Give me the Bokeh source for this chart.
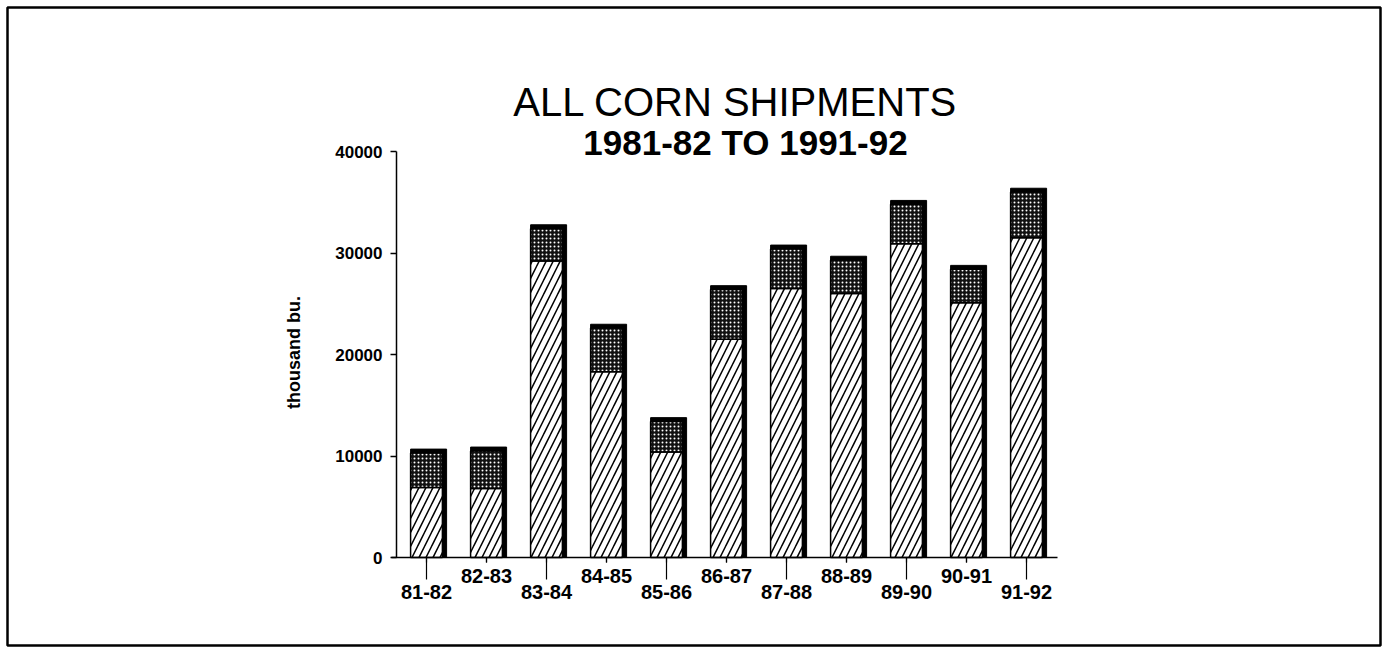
import math
from bokeh.plotting import figure
from bokeh.models import (ColumnDataSource, Range1d, FixedTicker,
                          Label, BoxAnnotation)
from bokeh.transform import dodge
from bokeh.core.properties import value
from bokeh.embed import file_html
from bokeh.resources import INLINE

# ---- data (thousand bushels) ----
years = ["81-82", "82-83", "83-84", "84-85", "85-86", "86-87",
         "87-88", "88-89", "89-90", "90-91", "91-92"]
lower_part = [6900, 6800, 29200, 18300, 10400, 21500, 26500, 26000, 30900, 25100, 31500]
upper_part = [3400, 3700, 3200, 4300, 3000, 4900, 3900, 3300, 3900, 3300, 4500]
y_ticks = [0, 10000, 20000, 30000, 40000]

W, H = 1383, 647
FONT = value("Liberation Sans")

pos = list(range(len(years)))
totals = [a + b for a, b in zip(lower_part, upper_part)]
tick_len = [22 if i % 2 == 0 else 5 for i in pos]
label_off = [27 if i % 2 == 0 else 11 for i in pos]

src = ColumnDataSource(dict(x=pos, year=years, lower=lower_part, total=totals,
                            tick_len=tick_len, label_off=label_off))

# frame covers the whole canvas; 60 px per category, 0.01015 px per unit
X0, Y1 = -7.1, 54877
p = figure(x_range=Range1d(X0, X0 + W / 60), y_range=Range1d(Y1 - H / 0.01015, Y1),
           width=W, height=H, output_backend="svg", toolbar_location=None,
           min_border_left=0, min_border_right=0, min_border_top=0, min_border_bottom=0)

p.xgrid.visible = False
p.ygrid.visible = False
p.outline_line_color = None

xa = p.xaxis[0]
xa.fixed_location = 0
xa.bounds = (-0.583, 10.517)
xa.ticker = FixedTicker(ticks=pos)
xa.major_tick_out = 5
xa.major_tick_in = 0
xa.minor_tick_line_color = None
xa.axis_line_width = 1.5
xa.major_tick_line_width = 1.2
xa.major_label_text_color = None

ya = p.yaxis[0]
ya.fixed_location = -0.5
ya.ticker = FixedTicker(ticks=y_ticks)
ya.bounds = (0, 40000)
ya.major_tick_out = 6
ya.major_tick_in = 0
ya.minor_tick_line_color = None
ya.axis_line_width = 1.5
ya.major_tick_line_width = 1.5
ya.major_label_text_font = "Liberation Sans"
ya.major_label_text_font_style = "bold"
ya.major_label_text_font_size = "17px"
ya.major_label_text_color = "black"
ya.major_label_standoff = 8

# shadow (black cap on top / right)
p.vbar(x=dodge("x", 0.035), top=dodge("total", 380), bottom=0, width=0.60, source=src,
       fill_color="black", line_color="black", line_width=1)

# lower hatched segment
p.vbar(x="x", top="lower", bottom=0, width=0.53, source=src,
       fill_color="white", line_color="black", line_width=1.5,
       hatch_pattern="/", hatch_color="black", hatch_scale=14, hatch_weight=1.5)

# upper dotted segment
p.vbar(x="x", top="total", bottom="lower", width=0.53, source=src,
       fill_color="#111111", line_color="black", line_width=1.5,
       hatch_pattern="dot", hatch_color="white", hatch_scale=4, hatch_weight=1.3)

# long ticks for the lower labels, and category labels
p.ray(x="x", y=0, length="tick_len", angle=-math.pi / 2, length_units="screen",
      source=src, line_color="black", line_width=1.2)
p.text(x="x", y=0, text="year", y_offset="label_off", source=src,
       text_align="center", text_baseline="top", text_font=FONT,
       text_font_style="bold", text_font_size="20px", text_color="black")

# titles
p.add_layout(Label(x=735, y=101, x_units="canvas", y_units="canvas",
                   text="ALL CORN SHIPMENTS", text_align="center", text_baseline="alphabetic",
                   text_font="Liberation Sans", text_font_size="40px", text_color="black"))
p.add_layout(Label(x=745, y=142, x_units="canvas", y_units="canvas",
                   text="1981-82 TO 1991-92", text_align="center", text_baseline="alphabetic",
                   text_font="Liberation Sans", text_font_style="bold",
                   text_font_size="35px", text_color="black"))

# y axis label
p.add_layout(Label(x=293, y=352, x_units="canvas", y_units="canvas", angle=math.pi / 2,
                   text="thousand bu.", text_align="center", text_baseline="middle",
                   text_font="Liberation Sans", text_font_style="bold",
                   text_font_size="18px", text_color="black"))

# outer frame
p.add_layout(BoxAnnotation(left=7, right=W - 3, top=7, bottom=H - 2,
                           left_units="canvas", right_units="canvas",
                           top_units="canvas", bottom_units="canvas",
                           fill_alpha=0, line_color="black", line_alpha=1.0, line_width=2.5))

open("out.html", "w").write(file_html(p, INLINE))
